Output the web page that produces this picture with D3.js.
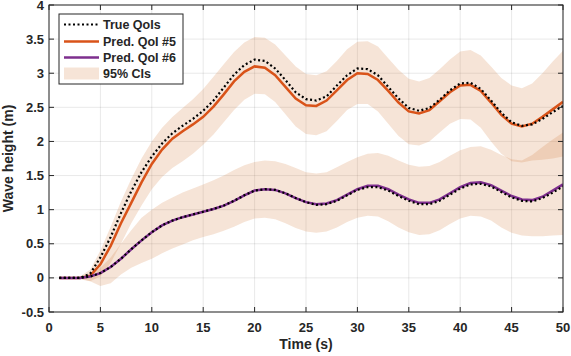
<!DOCTYPE html>
<html>
<head>
<meta charset="utf-8">
<script src="https://cdnjs.cloudflare.com/ajax/libs/d3/7.8.5/d3.min.js"></script>
<style>
  body { margin: 0; background: #fff; }
  svg text { font-family: "Liberation Sans", Arial, sans-serif; font-weight: bold; fill: #262626; }
</style>
</head>
<body>
<svg width="571" height="356"></svg>
<script>
const time = d3.range(1, 51);

const trueQoi5 = [0, 0, 0, 0.06, 0.3, 0.6, 0.95, 1.27, 1.55, 1.78,
    1.97, 2.12, 2.23, 2.33, 2.45, 2.6, 2.79, 2.98, 3.12, 3.2,
    3.18, 3.07, 2.9, 2.72, 2.62, 2.6, 2.66, 2.82, 2.97, 3.07,
    3.06, 2.97, 2.8, 2.63, 2.49, 2.45, 2.49, 2.61, 2.75, 2.85,
    2.86, 2.77, 2.6, 2.42, 2.28, 2.23, 2.25, 2.33, 2.43, 2.52];

const predQoi5 = [0, 0, 0, 0.03, 0.2, 0.47, 0.8, 1.1, 1.4, 1.67,
    1.88, 2.04, 2.15, 2.25, 2.36, 2.51, 2.69, 2.88, 3.02, 3.1,
    3.08, 2.97, 2.8, 2.63, 2.53, 2.52, 2.6, 2.75, 2.9, 3.0,
    2.99, 2.9, 2.74, 2.57, 2.44, 2.41, 2.46, 2.59, 2.72, 2.82,
    2.83, 2.74, 2.57, 2.39, 2.26, 2.22, 2.26, 2.36, 2.47, 2.58];

const upper5 = [0, 0, 0.02, 0.12, 0.4, 0.75, 1.12, 1.45, 1.75, 2.0,
    2.2, 2.36, 2.49, 2.62, 2.77, 2.95, 3.13, 3.31, 3.45, 3.53,
    3.52, 3.42, 3.26, 3.1, 2.99, 2.97, 3.03, 3.18, 3.35, 3.46,
    3.47, 3.39, 3.22, 3.05, 2.92, 2.88, 2.93, 3.06, 3.2, 3.32,
    3.34, 3.26, 3.1, 2.93, 2.82, 2.78, 2.85, 3.0, 3.17, 3.33];

const lower5 = [0, 0, -0.02, -0.05, 0.02, 0.22, 0.5, 0.8, 1.06, 1.3,
    1.48, 1.61, 1.71, 1.82, 1.95, 2.1, 2.28, 2.46, 2.61, 2.7,
    2.69, 2.58, 2.4, 2.22, 2.11, 2.09, 2.15, 2.3, 2.46, 2.55,
    2.55, 2.44, 2.26, 2.08, 1.96, 1.94, 2.0, 2.13, 2.26, 2.33,
    2.32, 2.2, 2.0, 1.82, 1.71, 1.69, 1.72, 1.73, 1.75, 1.78];

const trueQoi6 = [0, 0, 0, 0.02, 0.07, 0.16, 0.28, 0.42, 0.55, 0.67,
    0.77, 0.84, 0.89, 0.93, 0.97, 1.01, 1.06, 1.13, 1.21, 1.28,
    1.3, 1.29, 1.24, 1.17, 1.11, 1.07, 1.08, 1.13, 1.21, 1.29,
    1.33, 1.33, 1.28, 1.2, 1.13, 1.08, 1.08, 1.13, 1.22, 1.31,
    1.37, 1.38, 1.34, 1.26, 1.18, 1.13, 1.12, 1.17, 1.25, 1.34];

const predQoi6 = [0, 0, 0, 0.02, 0.07, 0.16, 0.28, 0.42, 0.55, 0.67,
    0.77, 0.84, 0.89, 0.93, 0.97, 1.01, 1.06, 1.13, 1.21, 1.28,
    1.3, 1.29, 1.24, 1.17, 1.11, 1.08, 1.09, 1.14, 1.22, 1.3,
    1.35, 1.35, 1.3, 1.22, 1.15, 1.1, 1.1, 1.15, 1.24, 1.33,
    1.39, 1.4, 1.36, 1.28, 1.2, 1.15, 1.14, 1.19, 1.28, 1.37];

const upper6 = [0, 0, 0.01, 0.05, 0.15, 0.3, 0.5, 0.7, 0.88, 1.0,
    1.1, 1.18, 1.25, 1.31, 1.37, 1.43, 1.5, 1.58, 1.65, 1.7,
    1.72, 1.71, 1.67, 1.61, 1.55, 1.53, 1.55, 1.62, 1.7, 1.77,
    1.82, 1.83, 1.79, 1.72, 1.66, 1.63, 1.64, 1.7, 1.79, 1.87,
    1.92, 1.93, 1.88, 1.8, 1.74, 1.72, 1.8, 1.92, 2.03, 2.13];

const lower6 = [0, 0, -0.01, -0.05, -0.12, -0.08, 0.05, 0.15, 0.22, 0.28,
    0.36, 0.43, 0.49, 0.55, 0.6, 0.64, 0.69, 0.75, 0.82, 0.87,
    0.88, 0.86, 0.8, 0.73, 0.68, 0.66, 0.68, 0.74, 0.82, 0.88,
    0.91, 0.9, 0.83, 0.74, 0.67, 0.63, 0.64, 0.7, 0.79, 0.87,
    0.91, 0.9, 0.84, 0.74, 0.66, 0.62, 0.61, 0.61, 0.62, 0.63];

const xTicks = d3.range(0, 51, 5);
const yTicks = [-0.5, 0, 0.5, 1, 1.5, 2, 2.5, 3, 3.5, 4];

const legendItems = ['True QoIs', 'Pred. QoI #5', 'Pred. QoI #6', '95% CIs'];

const orange = '#D95319';
const purple = '#7E2F8E';
const bandColor = '#D27837';
const bandAlpha = 0.2;
const axisColor = '#262626';

const svg = d3.select('svg');
const mLeft = 49, mRight = 563, mTop = 5, mBottom = 312;

const x = d3.scaleLinear().domain([0, 50]).range([mLeft, mRight]);
const y = d3.scaleLinear().domain([-0.5, 4]).range([mBottom, mTop]);

// grid
const grid = svg.append('g').attr('class', 'grid')
    .attr('stroke', axisColor).attr('stroke-opacity', 0.1).attr('stroke-width', 1);
grid.selectAll('line.gx').data(xTicks).enter().append('line')
    .attr('x1', d => x(d)).attr('x2', d => x(d)).attr('y1', mTop).attr('y2', mBottom);
grid.selectAll('line.gy').data(yTicks).enter().append('line')
    .attr('y1', d => y(d)).attr('y2', d => y(d)).attr('x1', mLeft).attr('x2', mRight);

svg.append('defs').append('clipPath').attr('id', 'clip')
    .append('rect').attr('x', mLeft).attr('y', mTop)
    .attr('width', mRight - mLeft).attr('height', mBottom - mTop);

const plot = svg.append('g').attr('clip-path', 'url(#clip)');

const area = (lo, hi) => d3.area()
    .x((d, i) => x(time[i]))
    .y0((d, i) => y(lo[i]))
    .y1((d, i) => y(hi[i]))(time);

[[lower5, upper5], [lower6, upper6]].forEach(([lo, hi]) => {
    plot.append('path')
        .attr('d', area(lo, hi))
        .attr('fill', bandColor)
        .attr('fill-opacity', bandAlpha);
});

const line = (vals) => d3.line()
    .x((d, i) => x(time[i]))
    .y((d, i) => y(vals[i]))(time);

plot.append('path').attr('d', line(predQoi5))
    .attr('fill', 'none').attr('stroke', orange).attr('stroke-width', 2.5);
plot.append('path').attr('d', line(predQoi6))
    .attr('fill', 'none').attr('stroke', purple).attr('stroke-width', 2.5);
[trueQoi5, trueQoi6].forEach(vals => {
    plot.append('path').attr('d', line(vals))
        .attr('fill', 'none').attr('stroke', '#000')
        .attr('stroke-width', 2.2).attr('stroke-dasharray', '2,2.5');
});

// axes box
const box = svg.append('g').attr('stroke', axisColor).attr('stroke-width', 1).attr('fill', 'none');
box.append('rect').attr('x', mLeft).attr('y', mTop)
    .attr('width', mRight - mLeft).attr('height', mBottom - mTop);

const tickLen = 5;
box.selectAll('line.tx').data(xTicks).enter().append('line')
    .attr('x1', d => x(d)).attr('x2', d => x(d)).attr('y1', mBottom).attr('y2', mBottom - tickLen);
box.selectAll('line.tx2').data(xTicks).enter().append('line')
    .attr('x1', d => x(d)).attr('x2', d => x(d)).attr('y1', mTop).attr('y2', mTop + tickLen);
box.selectAll('line.ty').data(yTicks).enter().append('line')
    .attr('y1', d => y(d)).attr('y2', d => y(d)).attr('x1', mLeft).attr('x2', mLeft + tickLen);
box.selectAll('line.ty2').data(yTicks).enter().append('line')
    .attr('y1', d => y(d)).attr('y2', d => y(d)).attr('x1', mRight).attr('x2', mRight - tickLen);

svg.append('g').selectAll('text').data(xTicks).enter().append('text')
    .attr('x', d => x(d)).attr('y', 332)
    .attr('text-anchor', 'middle').style('font-size', '13px')
    .text(d => d);

svg.append('g').selectAll('text').data(yTicks).enter().append('text')
    .attr('x', 44).attr('y', d => y(d) + 4.5)
    .attr('text-anchor', 'end').style('font-size', '13px')
    .text(d => d);

svg.append('text').attr('x', (mLeft + mRight) / 2).attr('y', 349)
    .attr('text-anchor', 'middle').style('font-size', '14px').text('Time (s)');

svg.append('text').attr('transform', `translate(13,${(mTop + mBottom) / 2}) rotate(-90)`)
    .attr('text-anchor', 'middle').style('font-size', '14px').text('Wave height (m)');

// legend
const lg = svg.append('g').attr('transform', 'translate(59,14)');
lg.append('rect').attr('width', 124).attr('height', 70)
    .attr('fill', '#fff').attr('stroke', axisColor).attr('stroke-width', 1);
const rowY = [10.5, 27.5, 43.5, 59.5];
lg.append('line').attr('x1', 5).attr('x2', 40).attr('y1', rowY[0]).attr('y2', rowY[0])
    .attr('stroke', '#000').attr('stroke-width', 2.2).attr('stroke-dasharray', '2,2.5');
lg.append('line').attr('x1', 5).attr('x2', 40).attr('y1', rowY[1]).attr('y2', rowY[1])
    .attr('stroke', orange).attr('stroke-width', 2.5);
lg.append('line').attr('x1', 5).attr('x2', 40).attr('y1', rowY[2]).attr('y2', rowY[2])
    .attr('stroke', purple).attr('stroke-width', 2.5);
lg.append('rect').attr('x', 5).attr('y', rowY[3] - 6).attr('width', 35).attr('height', 12)
    .attr('fill', bandColor).attr('fill-opacity', bandAlpha);
lg.selectAll('text').data(legendItems).enter().append('text')
    .attr('x', 44).attr('y', (d, i) => rowY[i] + 4.5)
    .style('font-size', '12.5px')
    .text(d => d);
</script>
</body>
</html>
